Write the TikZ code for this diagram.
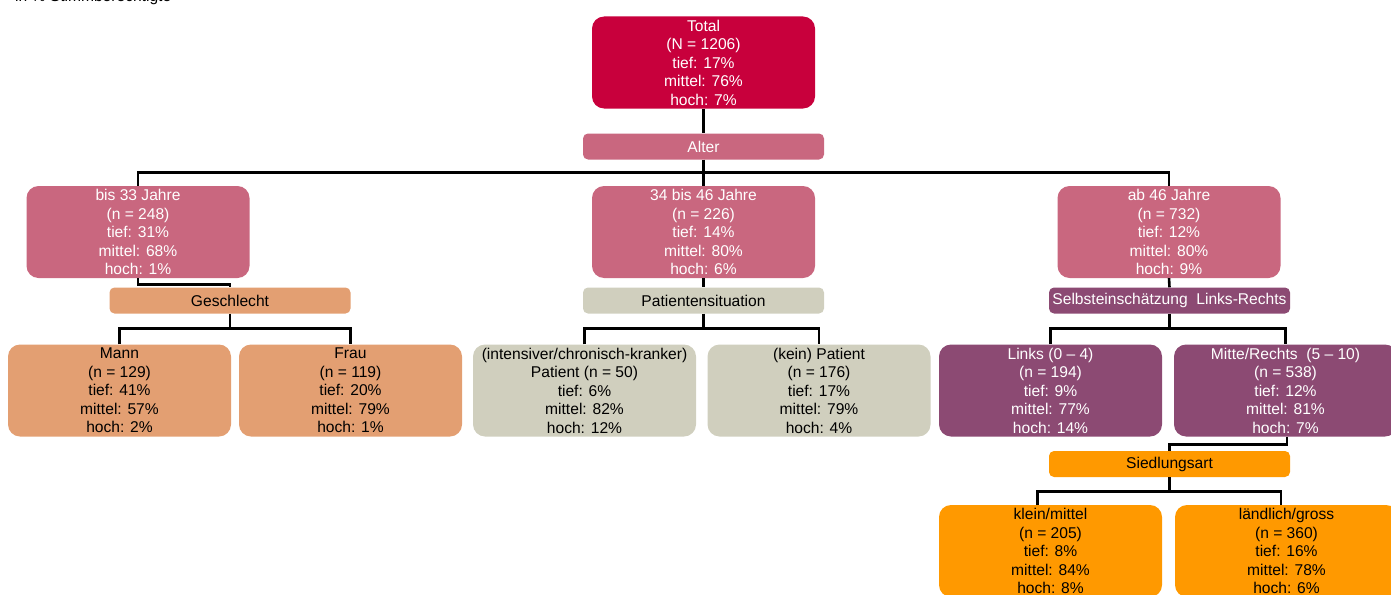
\documentclass[tikz,border=0pt]{standalone}
\usepackage{fontspec}
\setmainfont{Liberation Sans}
\definecolor{cTotal}{RGB}{200,0,60}
\definecolor{cPink}{RGB}{201,103,127}
\definecolor{cSand}{RGB}{227,159,114}
\definecolor{cGrey}{RGB}{208,207,190}
\definecolor{cPurple}{RGB}{140,74,115}
\definecolor{cOrange}{RGB}{255,153,0}
\begin{document}
\begin{tikzpicture}[x=1pt,y=1pt,
  every node/.style={font=\fontsize{15.6}{18.5}\selectfont, inner sep=0pt},
  databox/.style={rounded corners=12pt, minimum width=223pt, minimum height=92pt, align=center},
  splitbox/.style={rounded corners=5pt, minimum width=241pt, minimum height=26pt, align=center},
  wtext/.style={text=white},
  btext/.style={text=black},
  conn/.style={line width=2.6pt}]
\useasboundingbox (0,0) rectangle (1391,-594);
\clip (0,0) rectangle (1391,-594);
\node[anchor=base west, text=black] (hdr) at (15,-1.5) {in \% Stimmberechtigte};
% level 0
\node[databox, fill=cTotal, wtext] (tot) at (703.5,-62.5) {Total\\(N = 1206)\\tief: 17\%\\mittel: 76\%\\hoch: 7\%};
\node[splitbox, fill=cPink, wtext] (alter) at (703.5,-146.5) {Alter};
% level 1
\node[databox, fill=cPink, wtext] (b33) at (138,-232) {bis 33 Jahre\\(n = 248)\\tief: 31\%\\mittel: 68\%\\hoch: 1\%};
\node[databox, fill=cPink, wtext] (b3446) at (703.5,-232) {34 bis 46 Jahre\\(n = 226)\\tief: 14\%\\mittel: 80\%\\hoch: 6\%};
\node[databox, fill=cPink, wtext] (b46) at (1169,-232) {ab 46 Jahre\\(n = 732)\\tief: 12\%\\mittel: 80\%\\hoch: 9\%};
% splits level 1
\node[splitbox, fill=cSand, btext] (gesch) at (230,-300.5) {Geschlecht};
\node[splitbox, fill=cGrey, btext] (pat) at (703.5,-300.5) {Patientensituation};
\node[splitbox, fill=cPurple, wtext] (selbst) at (1169.5,-300.5) {Selbsteinschätzung\ \ Links-Rechts};
% level 2
\node[databox, fill=cSand, btext] (mann) at (119.5,-390.5) {Mann\\(n = 129)\\tief: 41\%\\mittel: 57\%\\hoch: 2\%};
\node[databox, fill=cSand, btext] (frau) at (350.5,-390.5) {Frau\\(n = 119)\\tief: 20\%\\mittel: 79\%\\hoch: 1\%};
\node[databox, fill=cGrey, btext] (pja) at (584.5,-390.5) {(intensiver/chronisch-kranker)\\Patient (n = 50)\\tief: 6\%\\mittel: 82\%\\hoch: 12\%};
\node[databox, fill=cGrey, btext] (pnein) at (819,-390.5) {(kein) Patient\\(n = 176)\\tief: 17\%\\mittel: 79\%\\hoch: 4\%};
\node[databox, fill=cPurple, wtext] (links) at (1050.5,-390.5) {Links (0 – 4)\\(n = 194)\\tief: 9\%\\mittel: 77\%\\hoch: 14\%};
\node[databox, fill=cPurple, wtext] (mitte) at (1285.5,-390.5) {Mitte/Rechts\ \ (5 – 10)\\(n = 538)\\tief: 12\%\\mittel: 81\%\\hoch: 7\%};
% split level 2
\node[splitbox, fill=cOrange, btext] (sied) at (1169.5,-464) {Siedlungsart};
% level 3
\node[databox, fill=cOrange, btext] (klein) at (1050.5,-551) {klein/mittel\\(n = 205)\\tief: 8\%\\mittel: 84\%\\hoch: 8\%};
\node[databox, fill=cOrange, btext] (land) at (1286.5,-551) {ländlich/gross\\(n = 360)\\tief: 16\%\\mittel: 78\%\\hoch: 6\%};
% connectors
\draw[conn] (tot.south) -- (alter.north);
\draw[conn] (alter.south) -- (b3446.north);
\draw[conn] (b33.north) |- ([yshift=-13pt]alter.south) -| (b46.north);
\draw[conn] (b33.south) -- ++(0,-6) -| (gesch.north);
\draw[conn] (b3446.south) -- (pat.north);
\draw[conn] (b46.south) -- (selbst.north);
\draw[conn] (gesch.south) -- ++(0,-15);
\draw[conn] (mann.north) |- ([yshift=-15pt]gesch.south) -| (frau.north);
\draw[conn] (pat.south) -- ++(0,-15);
\draw[conn] (pja.north) |- ([yshift=-15pt]pat.south) -| (pnein.north);
\draw[conn] (selbst.south) -- ++(0,-15);
\draw[conn] (links.north) |- ([yshift=-15pt]selbst.south) -| (mitte.north);
\draw[conn] ([xshift=1.5pt]mitte.south) -- ++(0,-8) -| (sied.north);
\draw[conn] (sied.south) -- ++(0,-14);
\draw[conn] ([xshift=-13pt]klein.north) |- ([yshift=-14pt]sied.south) -| ([xshift=-5.5pt]land.north);
\end{tikzpicture}
\end{document}
